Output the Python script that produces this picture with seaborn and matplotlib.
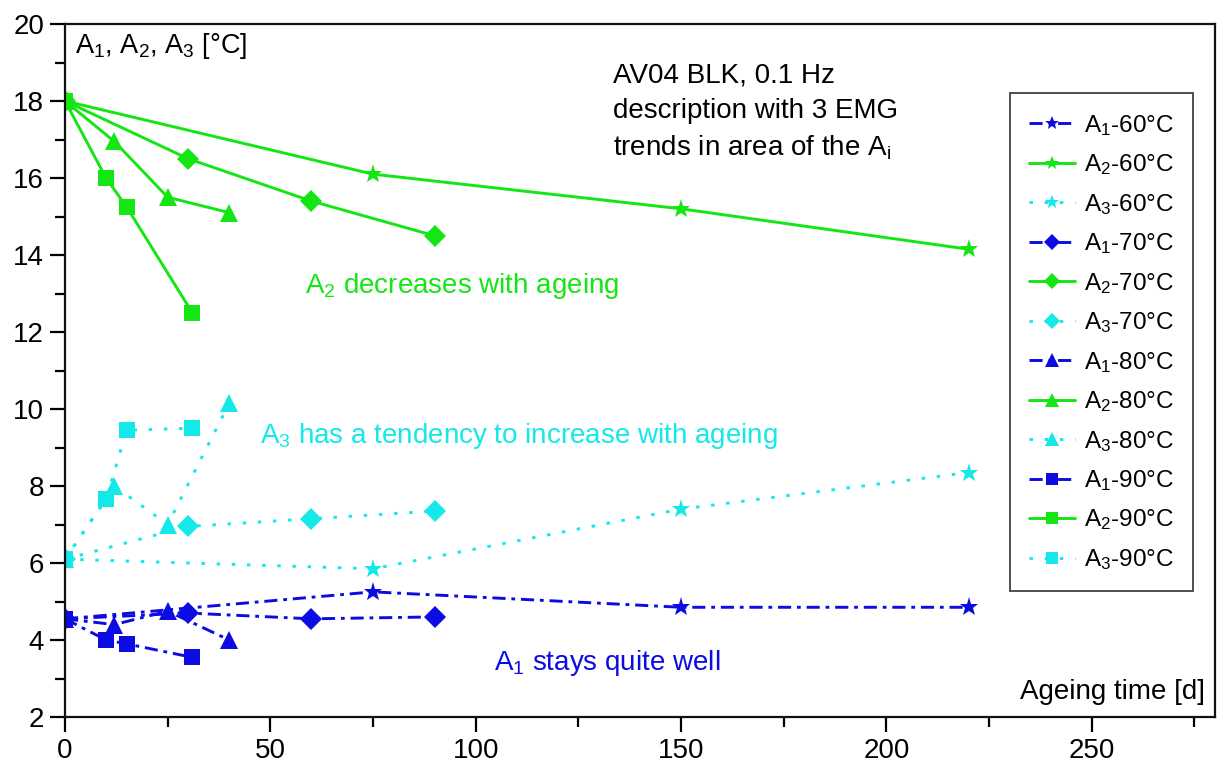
import matplotlib
matplotlib.use("Agg")
import numpy as np
import pandas as pd
import seaborn as sns
import matplotlib.pyplot as plt
from matplotlib.ticker import MultipleLocator

# ---------------- data ----------------
days_60 = [0, 75, 150, 220]
days_70 = [0, 30, 60, 90]
days_80 = [0, 12, 25, 40]
days_90 = [0, 10, 15, 31]

a1_60 = [4.55, 5.25, 4.85, 4.85]
a2_60 = [18.0, 16.1, 15.2, 14.15]
a3_60 = [6.1, 5.85, 7.4, 8.35]

a1_70 = [4.55, 4.7, 4.55, 4.6]
a2_70 = [18.0, 16.5, 15.4, 14.5]
a3_70 = [6.1, 6.95, 7.15, 7.35]

a1_80 = [4.55, 4.4, 4.75, 4.0]
a2_80 = [18.0, 16.95, 15.5, 15.1]
a3_80 = [6.1, 8.0, 7.0, 10.15]

a1_90 = [4.55, 4.0, 3.9, 3.55]
a2_90 = [18.0, 16.0, 15.25, 12.5]
a3_90 = [6.1, 7.65, 9.45, 9.5]

temps = ["60", "70", "80", "90"]
days = {"60": days_60, "70": days_70, "80": days_80, "90": days_90}
values = {
    ("1", "60"): a1_60, ("2", "60"): a2_60, ("3", "60"): a3_60,
    ("1", "70"): a1_70, ("2", "70"): a2_70, ("3", "70"): a3_70,
    ("1", "80"): a1_80, ("2", "80"): a2_80, ("3", "80"): a3_80,
    ("1", "90"): a1_90, ("2", "90"): a2_90, ("3", "90"): a3_90,
}

rows = []
for t in temps:
    for a in ["1", "2", "3"]:
        for d, v in zip(days[t], values[(a, t)]):
            rows.append({"day": d, "value": v, "param": a, "temp": t})
df = pd.DataFrame(rows)

# ---------------- style ----------------
sns.set_style("ticks")
plt.rcParams["font.family"] = ["Liberation Sans", "DejaVu Sans"]
plt.rcParams["mathtext.fontset"] = "custom"
plt.rcParams["mathtext.rm"] = "Liberation Sans"
plt.rcParams["mathtext.it"] = "Liberation Sans:italic"
plt.rcParams["mathtext.bf"] = "Liberation Sans:bold"
plt.rcParams["text.color"] = "black"
plt.rcParams["xtick.color"] = "black"
plt.rcParams["ytick.color"] = "black"
plt.rcParams["axes.edgecolor"] = "black"

BLUE = "#0c0ce2"
GREEN = "#14e614"
CYAN = "#14e8e8"
colors = {"1": BLUE, "2": GREEN, "3": CYAN}
lstyles = {"1": (0, (4.5, 2.0, 1.3, 2.0)), "2": "-", "3": (0, (1.2, 4.0))}
markers = {"60": "*", "70": "D", "80": "^", "90": "s"}
msizes = {"60": 14, "70": 11.5, "80": 13, "90": 11}

fig = plt.figure(figsize=(12.17, 7.65), dpi=100)
ax = fig.add_axes([65 / 1217, 48 / 765, 1150 / 1217, 693 / 765])

for t in temps:
    for a in ["1", "2", "3"]:
        sub = df[(df.param == a) & (df.temp == t)]
        sns.lineplot(
            data=sub, x="day", y="value", ax=ax, errorbar=None,
            color=colors[a], linestyle=lstyles[a], linewidth=2.1,
            marker=markers[t], markersize=msizes[t], markeredgewidth=0,
            label=f"A$_{a}$-{t}°C",
        )

ax.set_xlim(0, 280)
ax.set_ylim(2, 20)
ax.xaxis.set_major_locator(MultipleLocator(50))
ax.xaxis.set_minor_locator(MultipleLocator(25))
ax.yaxis.set_major_locator(MultipleLocator(2))
ax.yaxis.set_minor_locator(MultipleLocator(1))
ax.tick_params(which="major", direction="out", length=11, width=1.6,
               labelsize=20, pad=4, colors="black", top=False, right=False)
ax.tick_params(which="minor", direction="out", length=7, width=1.6,
               top=False, right=False)
for s in ax.spines.values():
    s.set_linewidth(1.6)
    s.set_color("#111111")
ax.set_xlabel("")
ax.set_ylabel("")

ax.text(0.009, 0.99, "A$_1$, A$_2$, A$_3$ [°C]", transform=ax.transAxes,
        ha="left", va="top", fontsize=19.5)
ax.text(0.991, 0.017, "Ageing time [d]", transform=ax.transAxes,
        ha="right", va="bottom", fontsize=20)

ax.text(133.5, 19.0, "AV04 BLK, 0.1 Hz\ndescription with 3 EMG\ntrends in area of the A$_\\mathrm{i}$",
        ha="left", va="top", fontsize=20, linespacing=1.45)
ax.text(58.5, 13.2, "A$_2$ decreases with ageing", color=GREEN,
        ha="left", va="center", fontsize=20)
ax.text(47.5, 9.3, "A$_3$ has a tendency to increase with ageing", color=CYAN,
        ha="left", va="center", fontsize=20)
ax.text(104.5, 3.4, "A$_1$ stays quite well", color=BLUE,
        ha="left", va="center", fontsize=20)

leg = ax.legend(loc="upper right", bbox_to_anchor=(0.981, 0.9), fontsize=17.5,
                frameon=True, fancybox=False, edgecolor="#222222",
                handlelength=1.9, handletextpad=0.35, labelspacing=0.6,
                borderpad=0.8, markerscale=0.75, borderaxespad=0)
leg.get_frame().set_linewidth(1.4)

fig.savefig("out.png", dpi=100)
